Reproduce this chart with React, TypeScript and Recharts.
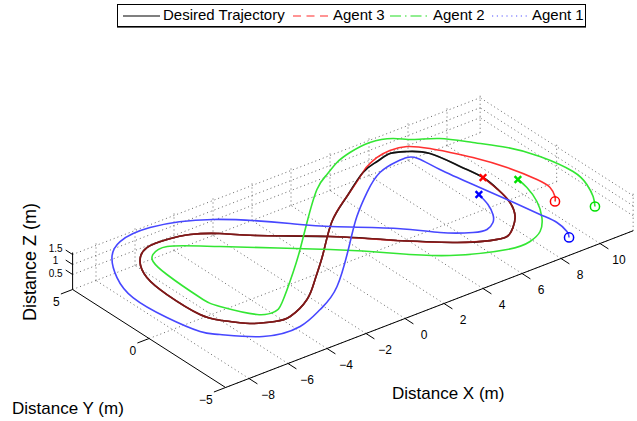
import { ComposedChart, Line, ReferenceLine, Scatter, XAxis, YAxis } from 'recharts'

const W = 637
const H = 421

const X_LIM = [-9.2, 11.7]
const Y_LIM = [-5, 5]
const Z_LIM = [-0.25, 1.6]
const X_TICKS = [-8, -6, -4, -2, 0, 2, 4, 6, 8, 10]
const Y_TICKS = [-5, 0, 5]
const Z_TICKS = [0.5, 1, 1.5]

// all paths are flown at the same height (m)
const FLIGHT_Z = 1

// [x, y] in metres
const desired = [
  [2.39, -1.42], [0.45, 0.47], [-1.84, 2.33], [-2.93, 3.36], [-3.94, 4.03], [-4.92, 4.28],
  [-5.97, 4.26], [-6.89, 3.54], [-7.47, 2.35], [-7.68, 0.77], [-7.62, -1.31], [-7.21, -2.23],
  [-6.47, -3.11], [-5.57, -3.6], [-4.83, -3.65], [-3.44, -2.98], [-2.18, -1.9], [-0.68, -0.5],
  [1.26, 1.38], [2.99, 2.61], [4.71, 3.75], [5.71, 4.1], [6.52, 4.29], [7.17, 4.0],
  [7.8, 3.31], [8.12, 1.75], [8.3, 0.48], [8.18, -0.65], [7.92, -1.77], [7.38, -2.79],
  [6.76, -3.44], [6.12, -3.87], [5.37, -3.71], [4.22, -3.02], [2.39, -1.42],
]

const agent3 = [
  [9.41, -2.81], [9.66, -2.49], [9.95, -1.8], [9.93, -0.97], [9.57, 0.53], [8.98, 2.0],
  [8.5, 2.89], [8.05, 3.63], [7.42, 4.32], [6.67, 4.49], [5.91, 4.36], [5.14, 4.03],
  [4.71, 3.75], [2.99, 2.61], [1.26, 1.38], [-0.68, -0.5], [-2.18, -1.9], [-3.44, -2.98],
  [-4.83, -3.65], [-5.57, -3.6], [-6.47, -3.11], [-7.21, -2.23], [-7.62, -1.31], [-7.68, 0.77],
  [-7.47, 2.35], [-6.89, 3.54], [-5.97, 4.26], [-4.92, 4.28], [-3.94, 4.03], [-2.93, 3.36],
  [-1.84, 2.33], [0.45, 0.47], [2.39, -1.42], [4.22, -3.02], [5.37, -3.71], [6.12, -3.87],
  [6.76, -3.44], [7.38, -2.79], [7.92, -1.77], [8.18, -0.65], [8.3, 0.48],
]

const agent2 = [
  [10.44, -4.11], [10.88, -3.43], [11.28, -2.51], [11.49, -1.34], [11.18, 0.43], [10.57, 1.81],
  [9.73, 2.96], [8.87, 4.03], [7.96, 4.62], [7.37, 5.18], [6.43, 5.49], [5.29, 5.34],
  [4.37, 5.02], [3.45, 4.5], [2.38, 3.79], [0.41, 1.93], [-1.16, 0.38], [-2.54, -0.92],
  [-4.39, -2.56], [-5.07, -2.96], [-5.79, -2.71], [-6.58, -1.29], [-6.77, -0.23], [-6.68, 2.05],
  [-6.47, 3.22], [-6.12, 3.67], [-5.27, 3.83], [-3.58, 2.53], [-0.2, -0.36], [1.74, -2.25],
  [3.34, -3.68], [5.47, -4.7], [6.61, -4.75], [7.43, -4.36], [8.19, -3.51], [8.83, -2.37],
  [9.21, -1.23], [9.32, -0.5],
]

const agent1 = [
  [8.06, -5.45], [8.29, -5.02], [8.42, -4.2], [8.28, -3.27], [7.97, -1.51], [7.63, 0.28],
  [7.32, 2.05], [7.17, 3.29], [6.87, 3.62], [6.35, 3.61], [5.25, 3.33], [3.83, 2.37],
  [2.31, 1.09], [0.79, -0.4], [-1.83, -2.89], [-3.52, -3.94], [-5.01, -4.53], [-6.7, -4.26],
  [-7.98, -3.08], [-8.47, -2.4], [-8.83, -0.69], [-8.92, 1.41], [-8.43, 3.08], [-7.59, 4.48],
  [-6.53, 5.3], [-4.87, 5.46], [-2.45, 4.43], [-0.18, 2.28], [0.95, 1.11], [3.0, -0.66],
  [4.17, -1.97], [5.23, -2.78], [5.83, -2.93], [6.37, -2.63], [6.77, -2.12], [7.11, -1.36],
  [7.32, -0.5],
]

const SERIES = [
  { name: 'Agent 3', path: agent3, line: '#ff3030', marker: '#ff0000' },
  { name: 'Agent 2', path: agent2, line: '#33e633', marker: '#00e000' },
  { name: 'Agent 1', path: agent1, line: '#4747ff', marker: '#0000ff' },
]

// fixed 3-D view, pixels per metre along each world axis
const VIEW = { ox: 328.5, oy: 264.5, xx: 19.5, xy: -7.5, yx: -15.3, yy: -9.8, zy: -20 }

function project(x: number, y: number, z: number) {
  return {
    px: VIEW.ox + VIEW.xx * x + VIEW.yx * y,
    py: VIEW.oy + VIEW.xy * x + VIEW.yy * y + VIEW.zy * z,
  }
}

const toScreen = (path: number[][]) => path.map(([x, y]) => project(x, y, FLIGHT_Z))
const seg = (a: number[], b: number[]) => {
  const p = project(a[0], a[1], a[2])
  const q = project(b[0], b[1], b[2])
  return [{ x: p.px, y: p.py }, { x: q.px, y: q.py }]
}

const [x0, x1] = X_LIM
const [y0, y1] = Y_LIM
const [z0, z1] = Z_LIM

const gridSegs = [
  ...X_TICKS.map((x) => seg([x, y0, z0], [x, y1, z0])),
  ...X_TICKS.map((x) => seg([x, y1, z0], [x, y1, z1])),
  ...Y_TICKS.map((y) => seg([x0, y, z0], [x1, y, z0])),
  ...Y_TICKS.map((y) => seg([x1, y, z0], [x1, y, z1])),
  ...Z_TICKS.map((z) => seg([x0, y1, z], [x1, y1, z])),
  ...Z_TICKS.map((z) => seg([x1, y0, z], [x1, y1, z])),
]

// axis lines and their tick marks
const axisSegs = [
  seg([x0, y0, z0], [x1, y0, z0]),
  seg([x0, y0, z0], [x0, y1, z0]),
  seg([x0, y1, z0], [x0, y1, z1]),
  ...X_TICKS.map((x) => seg([x, y0, z0], [x, y0 - 0.55, z0])),
  ...Y_TICKS.map((y) => seg([x0, y, z0], [x0 - 0.6, y, z0])),
  ...Z_TICKS.map((z) => seg([x0, y1, z], [x0, y1 + 0.45, z])),
]

const fmt = (v: number) => (v < 0 ? '\u2212' + Math.abs(v) : String(v))

const tickLabels = [
  ...X_TICKS.map((x) => ({ ...project(x, y0, z0), kind: 'x', label: fmt(x), z: 0 })),
  ...Y_TICKS.map((y) => ({ ...project(x0, y, z0), kind: 'y', label: fmt(y), z: 0 })),
  ...Z_TICKS.map((z) => ({ ...project(x0, y1, z), kind: 'z', label: fmt(z), z })),
]

const FONT = '"Liberation Sans", Arial, sans-serif'

function TickLabel(props: any) {
  const { cx, cy, payload } = props
  let tx = cx + 19
  let ty = cy + 16
  let anchor = 'middle'
  let size = 12
  if (payload.kind === 'y') {
    tx = cx - 13
    ty = cy + 12
    anchor = 'end'
  } else if (payload.kind === 'z') {
    // the three labels sit very close; fan them out a little
    tx = cx - 17
    ty = cy - 4 + (1 - payload.z) * 5
    size = 10
  }
  return (
    <text x={tx} y={ty} textAnchor={anchor} dominantBaseline="central" fontSize={size} fontFamily={FONT} fill="#000">
      {payload.label}
    </text>
  )
}

function StartShape(props: any) {
  const { cx, cy, fill } = props
  return <circle cx={cx} cy={cy} r={4.6} fill="none" stroke={fill} strokeWidth={1.5} />
}

function EndShape(props: any) {
  const { cx, cy, fill } = props
  const s = 3.3
  return (
    <g stroke={fill} strokeWidth={2.4}>
      <line x1={cx - s} y1={cy - s} x2={cx + s} y2={cy + s} />
      <line x1={cx - s} y1={cy + s} x2={cx + s} y2={cy - s} />
    </g>
  )
}

function LegendSample({ color, dash }: { color: string; dash?: string }) {
  return (
    <svg width={37} height={10} style={{ display: 'block' }}>
      <line x1={0} y1={5} x2={37} y2={5} stroke={color} strokeWidth={1.2} strokeDasharray={dash} />
    </svg>
  )
}

const legendItems = [
  { label: 'Desired Trajectory', color: '#000', dash: undefined, lineX: 123, textX: 163 },
  { label: 'Agent 3', color: '#ff2a2a', dash: '8 5.5', lineX: 293, textX: 333 },
  { label: 'Agent 2', color: '#22dd22', dash: '11 4 1.5 4', lineX: 390, textX: 433 },
  { label: 'Agent 1', color: '#5555ff', dash: '1.2 3.6', lineX: 492, textX: 532 },
]

const desiredPts = toScreen(desired)

export default function App() {
  return (
    <div style={{ position: 'relative', width: W, height: H, fontFamily: FONT, background: '#fff' }}>
      <style>{'body{margin:0}'}</style>
      <ComposedChart width={W} height={H} margin={{ top: 0, right: 0, bottom: 0, left: 0 }}>
        <XAxis type="number" dataKey="px" domain={[0, W]} hide allowDataOverflow />
        <YAxis type="number" dataKey="py" domain={[0, H]} reversed hide allowDataOverflow />

        {gridSegs.map((s, i) => (
          <ReferenceLine key={`grid-${i}`} segment={s} stroke="#555" strokeWidth={0.9} strokeDasharray="1 3" ifOverflow="visible" />
        ))}
        {axisSegs.map((s, i) => (
          <ReferenceLine key={`axis-${i}`} segment={s} stroke="#000" strokeWidth={1} ifOverflow="visible" />
        ))}

        {/* desired path under agent 3, then a half-tone pass on top so the overlap reads maroon */}
        <Line data={desiredPts} dataKey="py" name="Desired Trajectory" type="natural" stroke="#222" strokeWidth={1.6} dot={false} isAnimationActive={false} />
        {SERIES.slice(0, 1).map((s) => (
          <Line key={s.name} data={toScreen(s.path)} dataKey="py" name={s.name} type="natural" stroke={s.line} strokeWidth={1.6} dot={false} isAnimationActive={false} />
        ))}
        <Line data={desiredPts} dataKey="py" type="natural" stroke="#000" strokeOpacity={0.5} strokeWidth={1.6} dot={false} isAnimationActive={false} legendType="none" />
        {SERIES.slice(1).map((s) => (
          <Line key={s.name} data={toScreen(s.path)} dataKey="py" name={s.name} type="natural" stroke={s.line} strokeWidth={1.6} dot={false} isAnimationActive={false} />
        ))}

        {SERIES.map((s) => (
          <Scatter key={`start-${s.name}`} data={toScreen([s.path[0]])} fill={s.marker} shape={StartShape} isAnimationActive={false} />
        ))}
        {SERIES.map((s) => (
          <Scatter key={`end-${s.name}`} data={toScreen([s.path[s.path.length - 1]])} fill={s.marker} shape={EndShape} isAnimationActive={false} />
        ))}
        <Scatter data={tickLabels} shape={TickLabel} isAnimationActive={false} />
      </ComposedChart>

      {/* legend */}
      <div
        style={{
          position: 'absolute',
          left: 117,
          top: 4,
          width: 467,
          height: 21,
          border: '1px solid #000',
          boxShadow: '0 1px 0 #666',
          pointerEvents: 'none',
        }}
      />
      {legendItems.map((it) => (
        <div key={it.label}>
          <div style={{ position: 'absolute', left: it.lineX, top: 11 }}>
            <LegendSample color={it.color} dash={it.dash} />
          </div>
          <div style={{ position: 'absolute', left: it.textX, top: 6, fontSize: 15, lineHeight: '18px', whiteSpace: 'nowrap' }}>
            {it.label}
          </div>
        </div>
      ))}

      {/* axis titles */}
      <div style={{ position: 'absolute', left: 392, top: 384, fontSize: 17, whiteSpace: 'nowrap' }}>Distance X (m)</div>
      <div style={{ position: 'absolute', left: 12, top: 399, fontSize: 17, whiteSpace: 'nowrap' }}>Distance Y (m)</div>
      <div
        style={{
          position: 'absolute',
          left: 30,
          top: 262,
          fontSize: 18,
          whiteSpace: 'nowrap',
          transform: 'translate(-50%, -50%) rotate(-90deg)',
        }}
      >
        Distance Z (m)
      </div>
    </div>
  )
}
